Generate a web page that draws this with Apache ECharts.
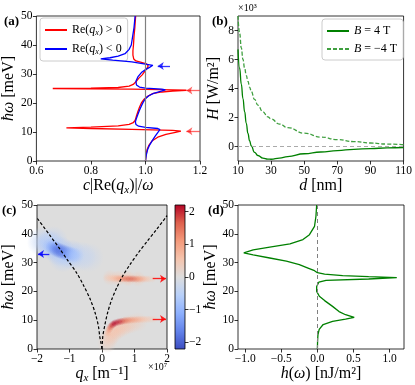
<!DOCTYPE html>
<html>
<head>
<meta charset="utf-8">
<script src="https://cdn.jsdelivr.net/npm/echarts@6/dist/echarts.min.js"></script>
<style>html,body{margin:0;padding:0;background:#fff}#chart{width:415px;height:385px}</style>
</head>
<body>
<div id="chart"></div>
<script>
// (a) [c|Re(qx)|/w, hbar w (meV)]
const aRed = [[1.0,0],[1.002,2],[1.006,4],[1.013,5.5],[1.025,7],[1.045,8.2],[1.075,9.2],[1.11,9.9],[1.13,10.3],[1.1,10.55],[0.95,10.9],[0.8,11.2],[0.71,11.4],[0.8,11.65],[0.9,12.1],[0.94,12.6],[0.955,13.2],[0.962,14],[0.967,15.5],[0.972,17],[0.978,18.5],[0.985,20],[0.995,21.3],[1.008,22.3],[1.025,23.2],[1.06,23.8],[1.1,24.1],[1.15,24.4],[1.1,24.55],[0.95,24.75],[0.8,24.9],[0.66,25.0],[0.8,25.15],[0.9,25.35],[0.94,25.8],[0.955,26.4],[0.965,27.3],[0.975,28.5],[0.988,29.7],[0.998,31],[1.006,32],[1.01,32.8],[1.004,33.5],[0.985,34],[0.965,34.5],[0.957,35.2],[0.954,36.5],[0.954,38],[0.956,40],[0.958,43],[0.961,46],[0.964,50]];
const aBlue = [[1.0,0],[1.003,2],[1.008,4],[1.015,5.5],[1.025,7],[1.035,8.5],[1.045,9.8],[1.053,10.8],[1.045,11.2],[1.0,11.6],[0.975,12],[0.965,12.6],[0.963,13.5],[0.966,14.5],[0.972,16],[0.978,17.5],[0.985,19],[0.993,20.5],[1.0,21.5],[1.012,22.5],[1.03,23.3],[1.055,24],[1.073,24.5],[1.06,24.8],[1.0,25.1],[0.978,25.5],[0.967,26.2],[0.965,27.5],[0.972,29],[0.985,30.5],[1.0,31.5],[1.015,32.3],[1.027,33.0],[1.02,33.4],[0.95,34.2],[0.88,34.8],[0.836,35.2],[0.87,35.6],[0.9,36.2],[0.925,37],[0.94,38.5],[0.948,40],[0.953,43],[0.958,46],[0.962,50]];
const aArrowBlue = [[1.09, 1.045, 32.8]];
const aArrowRed = [[1.199, 1.15, 24.35], [1.199, 1.15, 10.3]];

// (b) H (x10^3 W/m^2) vs d (nm)
const bD =   [10, 11, 12, 13, 14, 15, 16, 17, 18, 20, 22, 25, 28, 30, 35, 40, 50, 60, 70, 80, 90, 100, 110];
const bPos = [6.7, 5.4, 4.3, 3.3, 2.4, 1.6, 0.9, 0.4, 0.05, -0.4, -0.62, -0.8, -0.87, -0.88, -0.8, -0.7, -0.5, -0.38, -0.28, -0.2, -0.14, -0.1, -0.07];
const bNeg = [9.0, 7.8, 6.8, 6.0, 5.4, 4.9, 4.5, 4.1, 3.8, 3.25, 2.85, 2.4, 2.05, 1.9, 1.55, 1.3, 0.92, 0.65, 0.48, 0.34, 0.24, 0.17, 0.12];

// (c) q_x (x10^7 1/m), hbar w (meV), value
const cLeft = [[0,0],[-0.03,2],[-0.07,4.4],[-0.11,7.9],[-0.21,12.5],[-0.36,17.2],[-0.56,21.9],[-0.78,26.4],[-1.07,31.0],[-1.32,35.1],[-1.62,39.7],[-2.0,45.5]];
const cRight = [[0,0],[0.01,2],[0.025,4.4],[0.08,7.9],[0.17,12.5],[0.3,17.2],[0.45,21.2],[0.63,25.2],[0.86,29.3],[1.11,33.3],[1.39,37.4],[1.67,41.4],[1.95,45.5],[2.0,46.3]];
const cRedUp = [[0.15,24.7,0.3],[0.25,24.6,0.45],[0.35,24.55,0.6],[0.45,24.5,0.8],[0.55,24.45,1.0],[0.65,24.4,1.3],[0.75,24.4,1.5],[0.85,24.35,1.6],[0.95,24.35,1.55],[1.05,24.3,1.35],[1.15,24.3,1.1],[1.25,24.3,0.85],[1.35,24.3,0.6],[1.45,24.3,0.4],[1.55,24.3,0.25]];
const cRedUpHalo = [[0.25,24.8,0.35],[0.5,24.6,0.45],[0.8,24.5,0.5],[1.1,24.4,0.35]];
const cRedLow = [[0.18,5.5,0.7],[0.22,6.8,1.2],[0.27,7.8,1.7],[0.33,8.5,2.0],[0.4,9.0,2.2],[0.5,9.35,2.1],[0.6,9.6,1.9],[0.7,9.8,1.6],[0.8,9.95,1.35],[0.9,10.05,1.15],[1.0,10.1,1.0],[1.1,10.2,0.85],[1.2,10.25,0.7],[1.3,10.3,0.55],[1.4,10.3,0.45],[1.5,10.35,0.35],[1.6,10.4,0.25]];
const cRedLowHalo = [[0.15,2,0.25],[0.2,3.5,0.35],[0.3,5,0.5],[0.45,6.5,0.55],[0.6,7.5,0.5],[0.75,8.3,0.45],[0.9,8.8,0.35],[1.1,9.4,0.25]];
const cBlue = [[-1.6,35.8,-0.9],[-1.5,35.2,-1.3],[-1.4,34.6,-1.65],[-1.3,34.1,-1.8],[-1.2,33.7,-1.7],[-1.1,33.3,-1.5],[-1.0,33.0,-1.2],[-0.9,32.7,-0.95],[-0.8,32.5,-0.7]];
const cBlueHalo = [[-1.85,37.2,-0.45],[-1.6,36,-0.75],[-1.3,34,-0.9],[-0.95,32.8,-0.7],[-0.65,32.2,-0.45],[-0.4,31.8,-0.25],[-1.2,31.8,-0.5],[-1.5,37.5,-0.45]];
const cArrowBlue = [[-1.62, -1.97, 33.0]];
const cArrowRed = [[1.56, 1.97, 24.4], [1.56, 1.97, 10.4]];
const cbTicks = [-2, -1, 0, 1, 2];

// (d) [h(w) nJ/m^2, hbar w (meV)]
const dCurve = [[0,0],[0.003,3],[0.008,5],[0.025,6.8],[0.08,8.5],[0.21,9.6],[0.39,10.4],[0.51,11.0],[0.39,11.9],[0.3,13.0],[0.21,14.8],[0.1,16.8],[0.027,18.3],[-0.01,20.0],[-0.01,21.7],[0.02,23.2],[0.12,23.8],[0.71,24.3],[1.1,24.75],[0.71,25.1],[0.35,25.5],[0.1,26.0],[0.0,26.5],[-0.04,27.2],[-0.13,28.1],[-0.25,29.3],[-0.43,30.5],[-0.66,31.6],[-0.89,32.7],[-1.02,33.4],[-0.89,34.4],[-0.66,35.4],[-0.38,36.5],[-0.2,38.0],[-0.11,39.7],[-0.04,42.6],[-0.02,46.1],[-0.01,50]];

const FONT = '"Liberation Serif", "DejaVu Serif", serif';
const CW = [[59,76,192],[98,130,234],[141,176,254],[184,208,249],[221,221,221],[245,196,173],[244,154,123],[222,96,77],[180,4,38]];
function cw(v) {
  let t = Math.max(0, Math.min(1, (v + 2.2) / 4.4)) * 8;
  const i = Math.min(7, Math.floor(t)), f = t - i;
  return CW[i].map((c, k) => Math.round(c + (CW[i + 1][k] - c) * f)).join(',');
}
function blob(v) {
  const c = cw(v);
  return {type: 'radial', x: 0.5, y: 0.5, r: 0.5, colorStops: [
    {offset: 0, color: 'rgba(' + c + ',1)'},
    {offset: 0.45, color: 'rgba(' + c + ',0.6)'},
    {offset: 1, color: 'rgba(' + c + ',0)'}]};
}
const minus = v => String(v).replace('-', '\u2212');

const lbl = {color: '#000', fontFamily: FONT, fontSize: 11.5, margin: 4};
const tick = {show: true, length: 3.5, lineStyle: {color: '#000', width: 0.8}};
const noLine = {show: false, onZero: false};
const nameStyle = {color: '#000', fontFamily: FONT, fontSize: 16, rich: {
  i: {fontFamily: FONT, fontSize: 16, fontStyle: 'italic'},
  s: {fontFamily: FONT, fontSize: 11, fontStyle: 'italic', padding: [8, 0, 0, 0]}
}};
function xAx(gi, min, max, o) {
  return Object.assign({gridIndex: gi, type: 'value', min: min, max: max, axisLine: noLine,
    axisTick: tick, splitLine: {show: false}, axisLabel: lbl,
    nameLocation: 'middle', nameTextStyle: nameStyle}, o);
}
function yAx(gi, min, max, o) {
  return Object.assign({gridIndex: gi, type: 'value', min: min, max: max, axisLine: noLine,
    axisTick: tick, splitLine: {show: false}, axisLabel: lbl,
    nameLocation: 'middle', nameRotate: 90, nameTextStyle: nameStyle}, o);
}
function arrowData(list, color, op) {
  return list.map(a => [{coord: [a[0], a[2]], lineStyle: {color: color, opacity: op}, itemStyle: {color: color, opacity: op}},
    {coord: [a[1], a[2]], itemStyle: {color: color, opacity: op}}]);
}
function arrows(data) {
  return {silent: true, symbol: ['none', 'arrow'], symbolSize: 6, label: {show: false},
    lineStyle: {width: 1.3, type: 'solid'}, data: data};
}
function heat(data, size, z) {
  return {type: 'scatter', xAxisIndex: 2, yAxisIndex: 2, symbol: 'circle', symbolSize: size, z: z, silent: true,
    data: data.map(p => ({value: p, itemStyle: {color: blob(p[2])}}))};
}
const gridBase = {show: true, borderColor: '#000', borderWidth: 0.8, backgroundColor: '#fff'};
const cbStops = CW.map((c, k) => ({offset: k / 8, color: 'rgb(' + CW[8 - k].join(',') + ')'}));
const legendBox = {orient: 'vertical', itemWidth: 22, itemHeight: 8, itemGap: 6,
  padding: [6, 6, 5, 4], borderColor: '#cccccc', borderWidth: 1, borderRadius: 3,
  backgroundColor: 'rgba(255,255,255,0.8)', itemStyle: {opacity: 0, borderWidth: 0}};

const chart = echarts.init(document.getElementById('chart'));
chart.setOption({
  animation: false,
  grid: [
    Object.assign({left: 33, top: 16, width: 167, height: 145}, gridBase),
    Object.assign({left: 238, top: 16, width: 166, height: 145}, gridBase),
    Object.assign({}, gridBase, {left: 35, top: 205, width: 132, height: 144, backgroundColor: '#dddddd'}),
    Object.assign({left: 238, top: 205, width: 166, height: 144}, gridBase),
    Object.assign({}, gridBase, {left: 175, top: 205, width: 10, height: 144,
      backgroundColor: {type: 'linear', x: 0, y: 0, x2: 0, y2: 1, colorStops: cbStops}})
  ],
  xAxis: [
    xAx(0, 0.6, 1.2, {interval: 0.2, axisLabel: Object.assign({}, lbl, {formatter: v => v.toFixed(1)}),
      name: '{i|c}|Re({i|q}{s|x})|/{i|ω}', nameGap: 12}),
    xAx(1, 10, 110, {axisTick: Object.assign({}, tick, {customValues: [10, 30, 50, 70, 90, 110]}),
      axisLabel: Object.assign({}, lbl, {customValues: [10, 30, 50, 70, 90, 110]}),
      name: '{i|d} [nm]', nameGap: 14}),
    xAx(2, -2, 2, {interval: 1, axisLabel: Object.assign({}, lbl, {formatter: v => minus(v)}),
      name: '{i|q}{s|x} [m⁻¹]', nameGap: 14}),
    xAx(3, -1.1, 1.2, {axisTick: Object.assign({}, tick, {customValues: [-1, -0.5, 0, 0.5, 1]}),
      axisLabel: Object.assign({}, lbl, {customValues: [-1, -0.5, 0, 0.5, 1], formatter: v => minus(v.toFixed(1))}),
      name: '{i|h}({i|ω}) [nJ/m²]', nameGap: 13}),
    {gridIndex: 4, type: 'value', min: 0, max: 1, show: false}
  ],
  yAxis: [
    yAx(0, 0, 50, {interval: 10, name: '{i|ħω} [meV]', nameGap: 18}),
    yAx(1, -1, 9, {axisTick: Object.assign({}, tick, {customValues: [0, 2, 4, 6, 8]}),
      axisLabel: Object.assign({}, lbl, {customValues: [0, 2, 4, 6, 8]}),
      name: '{i|H} [W/m²]', nameGap: 16}),
    yAx(2, 0, 50, {interval: 10, name: '{i|ħω} [meV]', nameGap: 20}),
    yAx(3, 0, 50, {interval: 10, name: '{i|ħω} [meV]', nameGap: 18}),
    yAx(4, -2.2, 2.2, {position: 'right', axisTick: Object.assign({}, tick, {customValues: cbTicks}),
      axisLabel: Object.assign({}, lbl, {customValues: cbTicks, formatter: v => minus(v)})})
  ],
  legend: [
    Object.assign({left: 40, top: 18, data: ['Re(qx) > 0', 'Re(qx) < 0'],
      formatter: n => '{r|Re(}{i|q}{s|x}{r|)' + n.slice(6) + '}',
      textStyle: {fontFamily: FONT, fontSize: 12, color: '#000', rich: {
        r: {fontFamily: FONT, fontSize: 12}, i: {fontFamily: FONT, fontSize: 12, fontStyle: 'italic'},
        s: {fontFamily: FONT, fontSize: 8, fontStyle: 'italic', padding: [6, 0, 0, 0]}}}}, legendBox),
    Object.assign({left: 322, top: 19, data: ['B = 4 T', 'B = −4 T'],
      formatter: n => '{i|B}' + n.slice(1),
      textStyle: {fontFamily: FONT, fontSize: 12, color: '#000', rich: {
        i: {fontFamily: FONT, fontSize: 12, fontStyle: 'italic'}}}}, legendBox)
  ],
  graphic: [
    {type: 'text', left: 4, top: 15, style: {text: '(a)', font: 'bold 13px ' + FONT, fill: '#000'}},
    {type: 'text', left: 212, top: 15, style: {text: '(b)', font: 'bold 13px ' + FONT, fill: '#000'}},
    {type: 'text', left: 2, top: 204, style: {text: '(c)', font: 'bold 13px ' + FONT, fill: '#000'}},
    {type: 'text', left: 208, top: 204, style: {text: '(d)', font: 'bold 13px ' + FONT, fill: '#000'}},
    {type: 'text', left: 238, top: 3, style: {text: '×10³', font: '10px ' + FONT, fill: '#000'}},
    {type: 'text', left: 148, top: 362, style: {text: '×10⁷', font: '10px ' + FONT, fill: '#000'}}
  ],
  series: [
    {name: 'Re(qx) > 0', type: 'line', xAxisIndex: 0, yAxisIndex: 0, data: aRed, symbol: 'none',
      color: '#ff0000', lineStyle: {width: 1.3}, z: 3,
      markLine: {silent: true, symbol: 'none', label: {show: false}, data: [{xAxis: 1}],
        lineStyle: {color: '#808080', width: 1.2, type: 'solid'}}},
    {name: 'Re(qx) < 0', type: 'line', xAxisIndex: 0, yAxisIndex: 0, data: aBlue, symbol: 'none',
      color: '#0000ff', lineStyle: {width: 1.3}, z: 4,
      markLine: arrows(arrowData(aArrowBlue, '#0000ff', 0.8).concat(arrowData(aArrowRed, '#ff0000', 0.6)))},
    {name: 'B = 4 T', type: 'line', xAxisIndex: 1, yAxisIndex: 1, data: bD.map((d, i) => [d, bPos[i]]),
      symbol: 'none', smooth: true, smoothMonotone: 'x', color: '#008000', lineStyle: {width: 1.3},
      markLine: {silent: true, symbol: 'none', label: {show: false}, data: [{yAxis: 0}],
        lineStyle: {color: '#aaaaaa', width: 1.2, type: [4, 3]}}},
    {name: 'B = −4 T', type: 'line', xAxisIndex: 1, yAxisIndex: 1, data: bD.map((d, i) => [d, bNeg[i]]),
      symbol: 'none', smooth: true, smoothMonotone: 'x', color: '#3f9f3f', lineStyle: {width: 1.3, type: [4, 2]}},
    heat(cBlueHalo, 30, 1), heat(cBlue, 16, 2),
    heat(cRedUpHalo, 16, 1), heat(cRedUp, 8, 2),
    heat(cRedLowHalo, 20, 1), heat(cRedLow, 8, 2),
    {type: 'line', xAxisIndex: 2, yAxisIndex: 2, data: cLeft, symbol: 'none', smooth: 0.3, z: 5,
      color: '#000', lineStyle: {width: 1.2, type: [3, 2]}, markLine: arrows(arrowData(cArrowBlue, '#0000ff', 0.85))},
    {type: 'line', xAxisIndex: 2, yAxisIndex: 2, data: cRight, symbol: 'none', smooth: 0.3, z: 5,
      color: '#000', lineStyle: {width: 1.2, type: [3, 2]}, markLine: arrows(arrowData(cArrowRed, '#ff0000', 0.85))},
    {type: 'line', xAxisIndex: 3, yAxisIndex: 3, data: dCurve, symbol: 'none', color: '#008000',
      lineStyle: {width: 1.3},
      markLine: {silent: true, symbol: 'none', label: {show: false}, data: [{xAxis: 0}],
        lineStyle: {color: '#808080', width: 1, type: [4, 3]}}}
  ]
});
</script>
</body>
</html>
